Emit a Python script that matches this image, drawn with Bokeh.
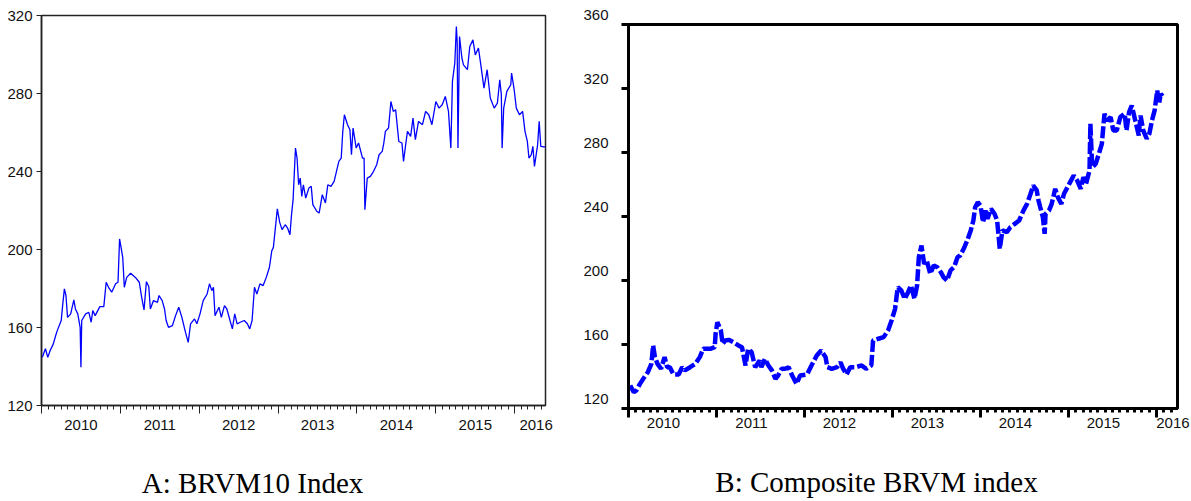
from bokeh.plotting import figure
from bokeh.layouts import row
from bokeh.models import Range1d, FixedTicker, CustomJSTickFormatter, LinearAxis
from bokeh.embed import file_html
from bokeh.resources import INLINE

# ---------------- data ----------------
# Panel A: BRVM10 index (decimal year, index level)
years_a = [2010.01, 2010.05, 2010.08, 2010.11, 2010.15, 2010.18, 2010.20, 2010.25, 2010.27, 2010.29,
           2010.31, 2010.33, 2010.37, 2010.41, 2010.43, 2010.46, 2010.49, 2010.50, 2010.51, 2010.56,
           2010.60, 2010.63, 2010.65, 2010.68, 2010.74, 2010.79, 2010.82, 2010.85, 2010.89, 2010.94,
           2010.97, 2010.99, 2011.03, 2011.05, 2011.08, 2011.13, 2011.19, 2011.24, 2011.27, 2011.30,
           2011.33, 2011.36, 2011.38, 2011.42, 2011.47, 2011.49, 2011.53, 2011.56, 2011.58, 2011.61,
           2011.66, 2011.70, 2011.74, 2011.78, 2011.82, 2011.86, 2011.89, 2011.94, 2011.97, 2012.01,
           2012.05, 2012.10, 2012.13, 2012.16, 2012.18, 2012.20, 2012.25, 2012.28, 2012.32, 2012.35,
           2012.39, 2012.42, 2012.45, 2012.48, 2012.52, 2012.57, 2012.61, 2012.64, 2012.67, 2012.70,
           2012.73, 2012.77, 2012.81, 2012.85, 2012.89, 2012.92, 2012.94, 2012.99, 2013.02, 2013.05,
           2013.09, 2013.12, 2013.15, 2013.17, 2013.19, 2013.22, 2013.24, 2013.26, 2013.28, 2013.30,
           2013.32, 2013.35, 2013.39, 2013.42, 2013.44, 2013.49, 2013.52, 2013.56, 2013.60, 2013.63,
           2013.67, 2013.71, 2013.74, 2013.77, 2013.80, 2013.82, 2013.84, 2013.88, 2013.91, 2013.93,
           2013.95, 2013.99, 2014.02, 2014.07, 2014.09, 2014.10, 2014.13, 2014.17, 2014.21, 2014.25,
           2014.28, 2014.32, 2014.34, 2014.36, 2014.40, 2014.43, 2014.46, 2014.49, 2014.53, 2014.57,
           2014.59, 2014.62, 2014.64, 2014.68, 2014.71, 2014.74, 2014.78, 2014.83, 2014.87, 2014.91,
           2014.95, 2015.00, 2015.04, 2015.08, 2015.12, 2015.16, 2015.19, 2015.21, 2015.24, 2015.26,
           2015.27, 2015.28, 2015.30, 2015.33, 2015.35, 2015.40, 2015.43, 2015.47, 2015.50, 2015.54,
           2015.57, 2015.61, 2015.65, 2015.69, 2015.74, 2015.78, 2015.81, 2015.83, 2015.84, 2015.86,
           2015.90, 2015.95, 2015.96, 2015.99, 2016.02, 2016.06, 2016.10, 2016.13, 2016.16, 2016.18,
           2016.21, 2016.23, 2016.25, 2016.29, 2016.31, 2016.33, 2016.37, 2016.39]
brvm10 = [144.7, 149.1, 144.7, 148.2, 151.6, 155.9, 158.4, 163.6, 172.1, 179.8,
          176.4, 165.2, 167.0, 174.2, 169.5, 167.0, 160.1, 139.6, 163.6, 167.0,
          167.8, 162.7, 168.7, 166.1, 170.7, 170.7, 183.2, 180.6, 178.1, 182.4,
          183.2, 205.4, 196.0, 180.6, 185.7, 187.8, 185.7, 183.2, 175.5, 169.0,
          183.5, 181.0, 169.5, 173.8, 172.9, 176.4, 173.8, 169.5, 163.6, 160.1,
          161.0, 166.1, 170.4, 165.2, 158.4, 152.4, 161.9, 164.4, 161.9, 167.0,
          173.8, 177.2, 182.4, 178.9, 180.6, 166.1, 170.4, 165.2, 171.2, 169.5,
          163.6, 159.3, 167.0, 161.9, 162.7, 163.6, 161.9, 159.3, 163.6, 180.6,
          177.2, 182.4, 181.5, 185.7, 190.9, 199.4, 201.1, 220.8, 213.9, 210.2,
          212.7, 211.0, 207.6, 217.9, 225.6, 252.0, 246.9, 233.2, 236.6, 227.2,
          233.2, 226.4, 231.5, 232.4, 223.0, 219.6, 218.7, 228.1, 223.9, 233.2,
          232.4, 234.9, 240.1, 245.2, 246.9, 260.6, 269.1, 264.0, 261.4, 248.6,
          262.3, 252.0, 254.6, 246.9, 246.9, 220.4, 236.6, 237.5, 240.1, 243.5,
          248.6, 250.3, 254.6, 260.6, 262.3, 275.9, 270.8, 271.7, 255.4, 254.6,
          245.2, 254.6, 260.6, 258.0, 267.4, 256.3, 265.7, 264.0, 270.8, 269.1,
          264.0, 275.9, 272.5, 274.2, 278.5, 270.8, 252.0, 286.2, 295.6, 314.4,
          306.7, 252.0, 309.2, 298.2, 294.7, 292.2, 304.1, 307.5, 299.8, 303.3,
          294.7, 282.8, 292.2, 277.7, 272.5, 275.1, 287.0, 279.4, 252.0, 272.5,
          281.1, 284.5, 290.5, 282.8, 272.5, 269.1, 270.8, 260.6, 255.4, 246.9,
          248.6, 252.9, 242.6, 253.7, 265.7, 252.9, 252.6, 252.6]

# Panel B: Composite BRVM index
years_b = [2010.02, 2010.06, 2010.09, 2010.13, 2010.18, 2010.22, 2010.26, 2010.28, 2010.30, 2010.33,
           2010.37, 2010.41, 2010.44, 2010.47, 2010.51, 2010.57, 2010.61, 2010.64, 2010.70, 2010.76,
           2010.81, 2010.85, 2010.93, 2010.98, 2010.99, 2011.01, 2011.05, 2011.07, 2011.10, 2011.14,
           2011.19, 2011.25, 2011.29, 2011.33, 2011.36, 2011.40, 2011.44, 2011.49, 2011.51, 2011.55,
           2011.59, 2011.63, 2011.67, 2011.70, 2011.74, 2011.78, 2011.82, 2011.86, 2011.91, 2011.95,
           2012.03, 2012.08, 2012.14, 2012.19, 2012.24, 2012.26, 2012.31, 2012.37, 2012.41, 2012.44,
           2012.48, 2012.52, 2012.58, 2012.65, 2012.70, 2012.76, 2012.78, 2012.84, 2012.90, 2012.95,
           2012.99, 2013.03, 2013.06, 2013.10, 2013.14, 2013.17, 2013.21, 2013.25, 2013.28, 2013.30,
           2013.33, 2013.36, 2013.39, 2013.43, 2013.47, 2013.51, 2013.55, 2013.58, 2013.62, 2013.66,
           2013.70, 2013.74, 2013.77, 2013.81, 2013.85, 2013.89, 2013.92, 2013.94, 2013.97, 2014.00,
           2014.03, 2014.06, 2014.08, 2014.12, 2014.16, 2014.19, 2014.22, 2014.25, 2014.30, 2014.34,
           2014.39, 2014.44, 2014.49, 2014.53, 2014.57, 2014.60, 2014.64, 2014.66, 2014.68, 2014.71,
           2014.73, 2014.74, 2014.78, 2014.81, 2014.85, 2014.88, 2014.92, 2014.95, 2014.99, 2015.02,
           2015.06, 2015.10, 2015.14, 2015.17, 2015.20, 2015.24, 2015.25, 2015.27, 2015.31, 2015.34,
           2015.38, 2015.41, 2015.44, 2015.48, 2015.51, 2015.55, 2015.59, 2015.64, 2015.66, 2015.69,
           2015.72, 2015.76, 2015.80, 2015.82, 2015.85, 2015.89, 2015.92, 2015.95, 2015.98, 2016.01,
           2016.03, 2016.05, 2016.08]
composite = [134.4, 130.2, 131.3, 135.4, 139.6, 142.7, 147.9, 159.4, 152.1, 147.9,
             144.8, 152.1, 145.8, 145.8, 141.3, 141.3, 145.8, 143.8, 145.8, 147.9,
             152.1, 157.3, 157.3, 158.3, 166.7, 173.9, 168.8, 160.4, 162.5, 162.9,
             161.5, 159.4, 158.3, 146.9, 157.3, 155.2, 145.8, 150.0, 145.8, 151.0,
             146.9, 143.8, 138.5, 140.6, 144.8, 144.8, 145.8, 140.6, 135.4, 140.6,
             141.3, 146.9, 153.1, 156.3, 152.1, 145.8, 144.8, 145.8, 148.9, 144.8,
             141.3, 145.8, 145.8, 146.9, 144.8, 146.9, 162.5, 163.6, 164.6, 168.8,
             175.0, 182.3, 195.8, 193.8, 188.6, 191.7, 196.9, 188.6, 196.9, 214.6,
             221.9, 210.4, 212.5, 204.2, 209.4, 208.3, 205.2, 202.1, 200.0, 206.3,
             208.3, 214.6, 215.6, 219.8, 225.0, 231.3, 237.5, 245.8, 248.9, 246.9,
             236.4, 243.8, 238.6, 244.8, 241.7, 237.5, 219.8, 231.3, 230.2, 233.3,
             235.4, 237.5, 243.8, 247.9, 254.2, 259.4, 256.3, 250.0, 245.8, 239.6,
             229.2, 241.7, 243.8, 247.9, 257.3, 252.1, 247.9, 254.2, 258.3, 261.5,
             265.6, 262.5, 257.3, 264.6, 260.4, 268.8, 297.9, 270.8, 272.9, 278.1,
             285.4, 304.2, 300.0, 302.1, 293.8, 293.8, 302.1, 304.2, 293.8, 305.2,
             309.4, 300.0, 290.6, 303.1, 293.8, 288.6, 291.7, 300.0, 306.3, 318.8,
             310.4, 316.7, 314.6]

year_labels = ["2010", "2011", "2012", "2013", "2014", "2015", "2016"]
y_ticks_a = [120, 160, 200, 240, 280, 320]
y_ticks_b = [120, 160, 200, 240, 280, 320, 360]
captions = ["A: BRVM10 Index", "B: Composite BRVM index"]

# ---------------- styling ----------------
TICK_FONT = "Liberation Sans"
TICK_SIZE = "15px"
CAP_FONT = "Liberation Serif"
CAP_SIZE = "29px"
BLUE = "#0000FF"
TXT = "#111111"

year_ticks = [int(y) for y in year_labels]
month_ticks = [y + m / 12 for y in range(2010, 2017) for m in range(1, 12)]
blank = CustomJSTickFormatter(code="return ''")


def year_label_positions(x_end, shift=0.0, last_shift=0.0):
    pos = []
    for y in year_ticks:
        hi = min(y + 1, x_end)
        p = (y + hi) / 2 - shift
        if hi < y + 1:
            p += last_shift
        pos.append(p)
    return pos


def label_formatter(labels):
    return CustomJSTickFormatter(args=dict(labels=labels), code="return labels[index]")


def style_tick_axis(ax, color, width, major_out, minor_out):
    ax.formatter = blank
    ax.axis_line_color = color
    ax.axis_line_width = width
    ax.major_tick_out = major_out
    ax.major_tick_in = 0
    ax.minor_tick_out = minor_out
    ax.minor_tick_in = 0
    ax.major_tick_line_color = color
    ax.minor_tick_line_color = color
    ax.major_label_standoff = 0
    ax.major_label_text_font_size = "1px"


def text_axis(ticks, labels, standoff, font, size, color):
    ax = LinearAxis(ticker=FixedTicker(ticks=ticks, minor_ticks=[]),
                    formatter=label_formatter(labels))
    ax.axis_line_color = None
    ax.major_tick_line_color = None
    ax.minor_tick_line_color = None
    ax.major_tick_out = 0
    ax.major_tick_in = 0
    ax.minor_tick_out = 0
    ax.minor_tick_in = 0
    ax.major_label_standoff = standoff
    ax.major_label_text_font = font
    ax.major_label_text_font_size = size
    ax.major_label_text_color = color
    return ax


# ---------------- Panel A ----------------
xa0, xa1 = 2010.0, 2016.39
frame_w_a = 504
px_a = (xa1 - xa0) / frame_w_a
pa = figure(width=580, height=501, output_backend="svg", toolbar_location=None, title=None,
            x_range=Range1d(xa0, xa1), y_range=Range1d(120, 320),
            min_border_left=41, min_border_right=35, min_border_top=15, min_border_bottom=96,
            background_fill_color="white", border_fill_color="white")
pa.frame_align = False
pa.grid.visible = False
pa.outline_line_color = "#222222"
pa.outline_line_width = 1.5
pa.line(years_a, brvm10, line_color=BLUE, line_width=1.3)

ax = pa.xaxis[0]
ax.ticker = FixedTicker(ticks=year_ticks, minor_ticks=month_ticks)
style_tick_axis(ax, "#222222", 1.5, 8, 4)
pa.add_layout(text_axis(year_label_positions(xa1, last_shift=6 * px_a), year_labels, 6,
                        TICK_FONT, TICK_SIZE, TXT), "below")

ay = pa.yaxis[0]
ay.ticker = FixedTicker(ticks=y_ticks_a, minor_ticks=[])
ay.axis_line_color = "#222222"
ay.axis_line_width = 1.5
ay.major_tick_out = 5
ay.major_tick_in = 0
ay.major_tick_line_color = "#222222"
ay.minor_tick_line_color = None
ay.major_label_standoff = 4
ay.major_label_text_font = TICK_FONT
ay.major_label_text_font_size = TICK_SIZE
ay.major_label_text_color = TXT

cap_a = xa0 + (252 - 41) * px_a
pa.add_layout(text_axis([cap_a], [captions[0]], 34, CAP_FONT, CAP_SIZE, "black"), "below")

# ---------------- Panel B ----------------
xb0, xb1 = 2010.0, 2016.24
frame_w_b = 549
px_b = (xb1 - xb0) / frame_w_b
pb = figure(width=611, height=501, output_backend="svg", toolbar_location=None, title=None,
            x_range=Range1d(xb0, xb1), y_range=Range1d(120, 360),
            min_border_left=48, min_border_right=14, min_border_top=24, min_border_bottom=93,
            background_fill_color="white", border_fill_color="white")
pb.frame_align = False
pb.grid.visible = False
pb.outline_line_color = "black"
pb.outline_line_width = 3
pb.line(years_b, composite, line_color=BLUE, line_width=4.5, line_dash="12 3")

bx = pb.xaxis[0]
bx.ticker = FixedTicker(ticks=year_ticks, minor_ticks=month_ticks)
style_tick_axis(bx, "black", 3, 9, 4)
bx.major_tick_line_width = 3
bx.minor_tick_line_width = 3
pb.add_layout(text_axis(year_label_positions(xb1, shift=9 * px_b, last_shift=15 * px_b), year_labels, 0,
                        TICK_FONT, TICK_SIZE, TXT), "below")

by = pb.yaxis[0]
by.ticker = FixedTicker(ticks=y_ticks_b, minor_ticks=[])
by.formatter = label_formatter([f"{v}\n " for v in y_ticks_b])
by.axis_line_color = "black"
by.axis_line_width = 3
by.major_tick_out = 7
by.major_tick_in = 0
by.major_tick_line_width = 3
by.major_tick_line_color = "black"
by.minor_tick_line_color = None
by.major_label_standoff = 13
by.major_label_text_font = TICK_FONT
by.major_label_text_font_size = TICK_SIZE
by.major_label_text_color = TXT

cap_b = xb0 + (876 - 628) * px_b
pb.add_layout(text_axis([cap_b], [captions[1]], 35, CAP_FONT, CAP_SIZE, "black"), "below")

layout = row(pa, pb, spacing=0)
open("out.html", "w").write(file_html(layout, INLINE))
